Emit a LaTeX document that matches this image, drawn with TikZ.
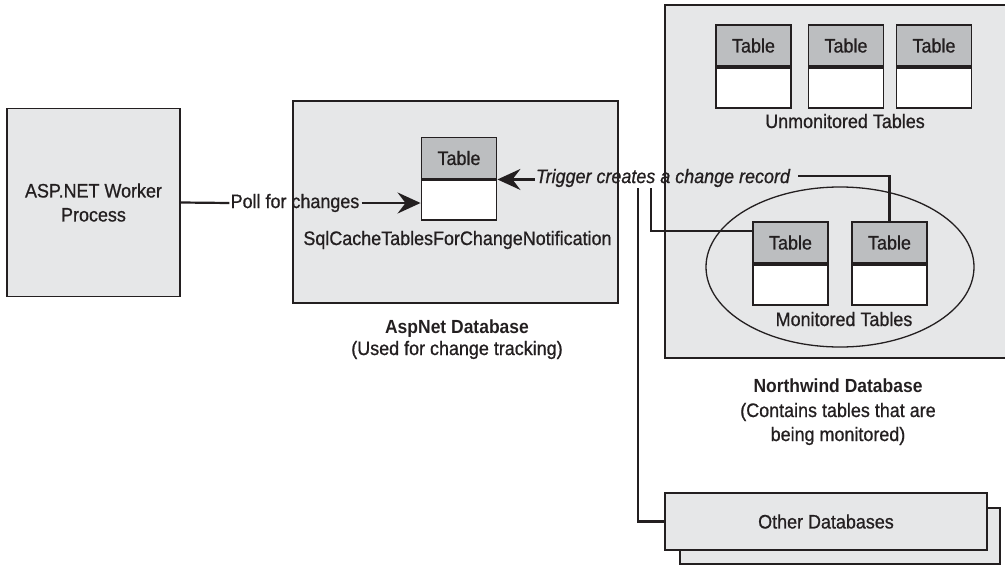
\documentclass[tikz,border=0pt]{standalone}
\usepackage{fontspec}
\setmainfont{Liberation Sans}[FakeStretch=0.92,UprightFeatures={FakeBold=0.8},ItalicFeatures={FakeBold=0.8}]
\usetikzlibrary{arrows.meta,calc,shapes.geometric}
\definecolor{boxgrey}{HTML}{E6E7E8}
\definecolor{headgrey}{HTML}{BCBEC0}
\definecolor{ink}{HTML}{231F20}
\begin{document}
\begin{tikzpicture}[x=1pt,y=-1pt,
  every node/.style={font=\fontsize{19.5}{24}\selectfont, text=ink},
  box/.style={draw=ink,line width=1.9pt,fill=boxgrey,inner sep=0pt},
  thead/.style={draw=ink,line width=1.9pt,fill=headgrey,minimum width=75pt,minimum height=41pt,inner sep=0pt},
  tbody/.style={draw=ink,line width=1.9pt,fill=white,minimum width=75pt,minimum height=40pt,inner sep=0pt},
  conn/.style={draw=ink,line width=2.2pt},
  arr/.style={conn,-{Stealth[length=23pt,width=21pt,inset=8pt]}},
  lbl/.style={inner sep=1pt}
]
\useasboundingbox (0,0) rectangle (1005,565);

% ASP.NET worker process
\node[box,minimum width=173pt,minimum height=188pt,align=center] (asp) at (93.5,202.5) {ASP.NET Worker\\Process};

% AspNet database
\node[box,minimum width=325pt,minimum height=202pt] (aspdb) at (455.5,202) {};
\node[thead] (ah) at (459,158) {Table};
\node[tbody,anchor=north] (ab) at (ah.south) {};
\node[anchor=base] (sqlc) at (457.5,245) {SqlCacheTablesForChangeNotification};
\node[anchor=base,font=\fontsize{19}{24}\selectfont\bfseries] (aspdbt) at (457,333) {AspNet Database};
\node[anchor=base] (aspdbs) at (457,355) {(Used for change tracking)};

% Northwind database
\node[box,minimum width=350pt,minimum height=353pt] (nw) at (840,181.5) {};
\node[thead] (u1h) at (753.5,45.5) {Table};
\node[tbody,anchor=north] (u1b) at (u1h.south) {};
\node[thead] (u2h) at (846,45.5) {Table};
\node[tbody,anchor=north] (u2b) at (u2h.south) {};
\node[thead] (u3h) at (934,45.5) {Table};
\node[tbody,anchor=north] (u3b) at (u3h.south) {};
\node[anchor=base] (unmon) at (845,128) {Unmonitored Tables};

\node[draw=ink,line width=1.3pt,ellipse,minimum width=268pt,minimum height=160pt,inner sep=0pt] (mon) at (840,267) {};
\node[thead] (m1h) at (790.5,242.5) {Table};
\node[tbody,anchor=north] (m1b) at (m1h.south) {};
\node[thead] (m2h) at (889.5,242.5) {Table};
\node[tbody,anchor=north] (m2b) at (m2h.south) {};
\node[anchor=base] (mont) at (844,326) {Monitored Tables};

\node[anchor=base,font=\fontsize{19}{24}\selectfont\bfseries] (nwt) at (838,392) {Northwind Database};
\node[anchor=base] (nws1) at (838,417) {(Contains tables that are};
\node[anchor=base] (nws2) at (838,441) {being monitored)};

% Other databases
\node[box,minimum width=320pt,minimum height=56pt] (otherback) at (840,536) {};
\node[box,minimum width=322pt,minimum height=57pt] (other) at (826,521.5) {Other Databases};

% Connectors
\node[lbl] (poll) at (295,203) {Poll for changes};
\draw[conn] (asp.east) -- (poll.west);
\draw[arr] ([xshift=1pt]poll.east) -- (poll.east -| ab.west);

\node[lbl,font=\fontsize{19.5}{24}\selectfont\itshape] (trig) at (663,178) {Trigger creates a change record};
\draw[arr] (trig.west |- ah.south east) -- (ah.south east);
\coordinate (tr) at ([xshift=7pt]trig.east |- 0,176);
\draw[conn] (tr) -| (m2h.north);

\coordinate (c1) at (651,188);
\coordinate (c1e) at (m1h.west |- 0,231);
\draw[conn] (c1) |- (c1e);

\coordinate (c2) at (638,188);
\draw[conn] (c2) |- (other.west);
\end{tikzpicture}
\end{document}
